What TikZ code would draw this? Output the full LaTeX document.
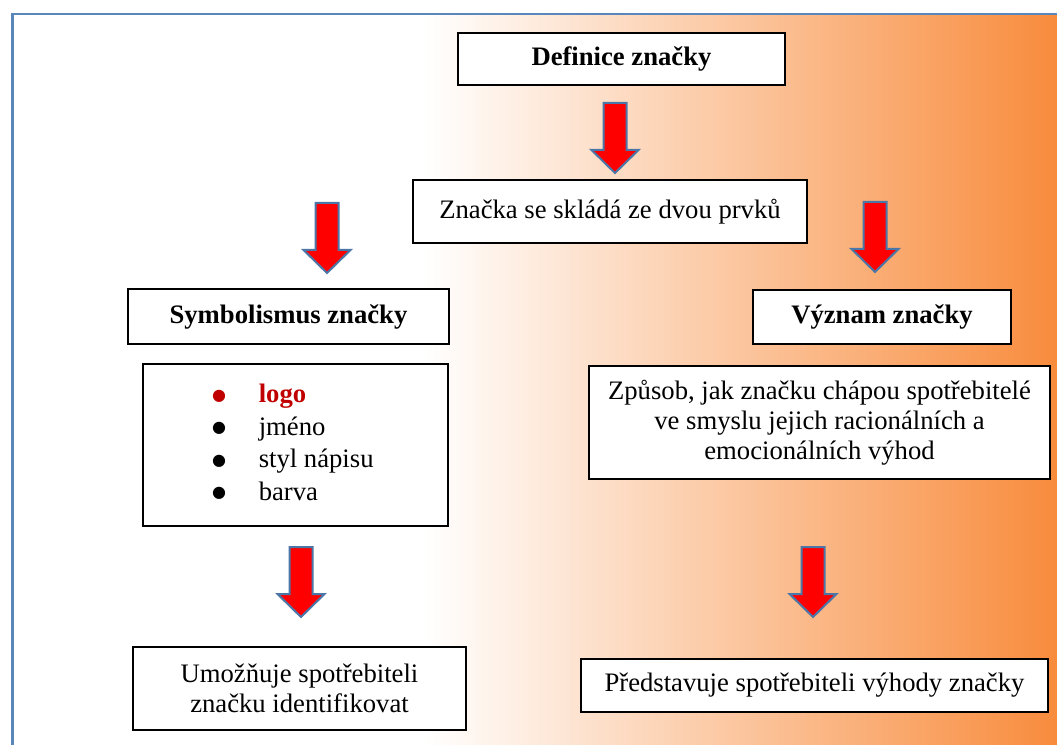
\documentclass[tikz,border=0pt]{standalone}
\usepackage{fontspec}
\setmainfont{Liberation Serif}
\newfontfamily\dotfont{DejaVu Sans}
\definecolor{frameline}{HTML}{5A87BB}
\definecolor{shadeend}{HTML}{F88A3A}
\definecolor{arrowfill}{HTML}{FF0000}
\definecolor{arrowline}{HTML}{4A76A8}
\definecolor{logored}{HTML}{C00000}
\newcommand{\bigdot}{\hspace*{-4pt}\raisebox{2pt}{\dotfont\fontsize{12}{12}\selectfont ●}}
\tikzset{
  every node/.style={font=\fontsize{20}{22.5}\selectfont, text=black},
  box/.style={rectangle, draw=black, line width=1.5pt, fill=white,
    align=center, inner sep=4pt},
  title/.style={box, font=\fontsize{20}{22.5}\selectfont\bfseries},
  frame/.style={draw=frameline, line width=2.2pt},
  blockarrow/.style={fill=arrowfill, draw=arrowline, line width=1.5pt,
    line join=miter},
}

\begin{document}
\begin{tikzpicture}[x=0.75pt,y=-0.75pt]
\clip (0,0) rectangle (1057,745);

% ---- Background -------------------------------------------------------------
\fill[white] (12,14) rectangle (426,760);
\shade[left color=white, right color=shadeend] (425,14) rectangle (1065,760);
\draw[frame] (12.5,14) rectangle (1065,760);

% ---- Top --------------------------------------------------------------------
\node[title, minimum width=245.25pt, minimum height=39pt] (def) at (621.5,59)
  {Definice značky};
\node[box, minimum width=295.5pt, minimum height=47.25pt] (dva) at (610,211.5)
  {Značka se skládá ze dvou prvků};

% ---- Left branch ------------------------------------------------------------
\node[title, minimum width=240.75pt, minimum height=41.25pt] (sym) at (288.5,316.5)
  {Symbolismus značky};
\node[box, minimum width=228.75pt, minimum height=121.5pt,
  font=\fontsize{20}{24.4}\selectfont] (prv) at (295.5,445)
  {\begin{tabular}{@{}p{31pt}@{}l@{}}
   \textcolor{logored}{\bigdot} & \textcolor{logored}{\textbf{logo}}\\
   \bigdot & jméno\\
   \bigdot & styl nápisu\\
   \bigdot & barva
   \end{tabular}};
\node[box, minimum width=249.75pt, minimum height=62.25pt] (umo) at (299.5,688.5)
  {Umožňuje spotřebiteli\\ značku identifikovat};

% ---- Right branch -----------------------------------------------------------
\node[title, minimum width=193.5pt, minimum height=40.5pt] (vyz) at (882,317)
  {Význam značky};
\node[box, minimum width=345.75pt, minimum height=84.75pt] (zpu) at (819.5,422.5)
  {Způsob, jak značku chápou spotřebitelé\\ ve smyslu jejich racionálních a\\
   emocionálních výhod};
\node[box, minimum width=350.25pt, minimum height=39.75pt] (pre) at (814.5,685.5)
  {Představuje spotřebiteli výhody značky};

% ---- Block arrows -----------------------------------------------------------
\foreach \ax/\ay in {615/103, 327/203, 875/202, 301/547, 813/547}
  \draw[blockarrow] (\ax-11.5,\ay) -- (\ax+11.5,\ay) -- (\ax+11.5,\ay+47)
    -- (\ax+23.5,\ay+47) -- (\ax,\ay+70) -- (\ax-23.5,\ay+47)
    -- (\ax-11.5,\ay+47) -- cycle;

\end{tikzpicture}
\end{document}
